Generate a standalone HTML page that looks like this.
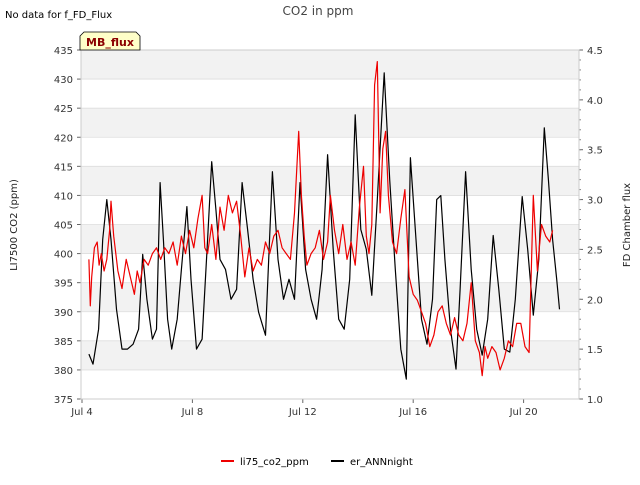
<!DOCTYPE html>
<html><head><meta charset="utf-8"><style>
body{margin:0;background:#fff;font-family:"Liberation Sans","DejaVu Sans",sans-serif}
svg text{font-family:"DejaVu Sans","Liberation Sans",sans-serif}
</style></head><body>
<svg id="c" width="640" height="480" xmlns="http://www.w3.org/2000/svg">
<text x="5" y="18" font-size="10" fill="#000">No data for f_FD_Flux</text>
<text x="318" y="15" font-size="12" fill="#444" text-anchor="middle">CO2 in ppm</text>
<text transform="translate(17,225) rotate(-90)" font-size="10" text-anchor="middle" fill="#222">LI7500 CO2 (ppm)</text>
<text transform="translate(630,225) rotate(-90)" font-size="10" text-anchor="middle" fill="#222">FD Chamber flux</text>
<g id="bands"></g><g id="grid"></g><g id="ticks"></g>
<g id="series"></g>
<rect x="81" y="50" width="498" height="349" fill="none" stroke="#ccc"/>
<g>
<path d="M80,50 L80,36 L84,32 L136,32 L140,36 L140,50 Z" fill="#ffffc8" stroke="#000" stroke-width="0.8"/>
<text x="110" y="46" font-size="11" font-weight="bold" fill="#8b0000" text-anchor="middle">MB_flux</text>
</g>
<g>
<line x1="221" y1="461" x2="234" y2="461" stroke="#e00" stroke-width="2"/>
<text x="240" y="465" font-size="10">li75_co2_ppm</text>
<line x1="331" y1="461" x2="344" y2="461" stroke="#000" stroke-width="2"/>
<text x="350" y="465" font-size="10">er_ANNnight</text>
</g>
</svg>
<script>
const leftTicks=[375,380,385,390,395,400,405,410,415,420,425,430,435];
const rightTicks=[1.0,1.5,2.0,2.5,3.0,3.5,4.0,4.5];
const xTickDays=[4,8,12,16,20];
const xTickLabels=["Jul 4","Jul 8","Jul 12","Jul 16","Jul 20"];
const co2Days=[4.25,4.3,4.35,4.45,4.55,4.62,4.7,4.8,4.9,5.0,5.05,5.15,5.3,5.45,5.6,5.75,5.9,6.0,6.1,6.25,6.4,6.55,6.7,6.85,7.0,7.15,7.3,7.45,7.6,7.75,7.9,8.05,8.2,8.35,8.45,8.55,8.7,8.85,9.0,9.15,9.3,9.45,9.6,9.75,9.9,10.05,10.2,10.35,10.5,10.65,10.8,10.95,11.1,11.25,11.4,11.55,11.7,11.85,11.95,12.05,12.15,12.3,12.45,12.6,12.75,12.9,13.0,13.15,13.3,13.45,13.6,13.75,13.9,14.05,14.2,14.3,14.4,14.5,14.6,14.7,14.8,14.9,15.0,15.1,15.25,15.4,15.55,15.7,15.85,16.0,16.15,16.3,16.45,16.6,16.75,16.9,17.05,17.2,17.35,17.5,17.65,17.8,17.95,18.1,18.25,18.4,18.5,18.6,18.7,18.85,19.0,19.15,19.3,19.45,19.6,19.75,19.9,20.05,20.2,20.35,20.5,20.55,20.65,20.8,20.95,21.05,21.15,21.25];
const co2Vals=[399,391,396,401,402,398,400,397,399,404,409,403,397,394,399,396,393,397,395,399,398,400,401,399,401,400,402,398,403,400,404,401,406,410,401,400,405,399,408,404,410,407,409,403,396,401,397,399,398,402,400,403,404,401,400,399,407,421,410,403,398,400,401,404,399,402,410,404,400,405,399,402,398,408,415,403,400,405,429,433,407,418,421,410,402,400,406,411,396,393,392,390,388,384,386,390,391,388,386,389,386,385,388,395,385,383,379,384,382,384,383,380,382,385,384,388,388,384,383,410,397,400,405,403,402,404];
const fluxDays=[4.25,4.4,4.6,4.75,4.9,5.05,5.25,5.45,5.65,5.85,6.05,6.2,6.35,6.55,6.7,6.83,6.95,7.1,7.25,7.45,7.6,7.8,7.95,8.15,8.35,8.55,8.7,8.85,9.0,9.2,9.4,9.6,9.8,10.0,10.2,10.4,10.65,10.9,11.1,11.3,11.5,11.7,11.9,12.1,12.3,12.5,12.7,12.9,13.1,13.3,13.5,13.7,13.9,14.1,14.3,14.5,14.7,14.95,15.15,15.35,15.55,15.75,15.9,16.1,16.3,16.5,16.7,16.85,17.0,17.15,17.35,17.55,17.7,17.9,18.1,18.3,18.5,18.7,18.9,19.1,19.3,19.5,19.7,19.95,20.15,20.35,20.55,20.75,20.9,21.05,21.2,21.3];
const fluxVals=[1.45,1.35,1.7,2.6,3.0,2.6,1.9,1.5,1.5,1.55,1.7,2.45,2.0,1.6,1.7,3.17,2.6,1.8,1.5,1.8,2.3,2.93,2.2,1.5,1.6,2.6,3.38,2.9,2.4,2.3,2.0,2.1,3.17,2.7,2.2,1.87,1.64,3.28,2.4,2.0,2.2,2.0,3.17,2.3,2.0,1.8,2.3,3.45,2.5,1.8,1.7,2.2,3.85,2.7,2.5,2.04,3.0,4.27,3.2,2.3,1.5,1.2,3.42,2.6,1.8,1.55,2.0,3.0,3.04,2.4,1.7,1.3,2.1,3.28,2.3,1.7,1.44,1.8,2.64,2.1,1.5,1.47,2.0,3.03,2.5,1.84,2.4,3.72,3.2,2.6,2.2,1.9];
const X=d=>82+(d-4)*27.6;
const YL=v=>399-(v-375)*(349/60);
const YR=v=>399-(v-1.0)*(349/3.5);
const NS="http://www.w3.org/2000/svg";
function mk(tag,attrs,parent){const e=document.createElementNS(NS,tag);for(const k in attrs)e.setAttribute(k,attrs[k]);document.getElementById(parent).appendChild(e);return e;}
for(let i=0;i<leftTicks.length-1;i++){if(i%2===1){const r=mk('rect',{x:81,y:YL(leftTicks[i+1]),width:498,height:YL(leftTicks[i])-YL(leftTicks[i+1]),fill:'#f2f2f2'},'bands');

}}
leftTicks.forEach(v=>{const l=mk('line',{x1:81,x2:579,y1:YL(v),y2:YL(v),stroke:'#ddd','stroke-width':0.8},'grid');


const t=mk('text',{x:73,y:YL(v)+4,'font-size':10,'text-anchor':'end',fill:'#333'},'ticks');t.textContent=v;


mk('line',{x1:77,x2:81,y1:YL(v),y2:YL(v),stroke:'#666'},'ticks');});
rightTicks.forEach(v=>{const t=mk('text',{x:587,y:YR(v)+4,'font-size':10,fill:'#333'},'ticks');t.textContent=v.toFixed(1);


mk('line',{x1:579,x2:583,y1:YR(v),y2:YR(v),stroke:'#666'},'ticks');});
for(let v=1.1;v<4.5;v+=0.1){mk('line',{x1:579,x2:581,y1:YR(v),y2:YR(v),stroke:'#888'},'ticks');}
xTickDays.forEach((d,i)=>{const t=mk('text',{x:X(d),y:415,'font-size':10,'text-anchor':'middle',fill:'#333'},'ticks');t.textContent=xTickLabels[i];


mk('line',{x1:X(d),x2:X(d),y1:399,y2:403,stroke:'#666'},'ticks');});
const fp=fluxDays.map((d,i)=>X(d).toFixed(1)+','+YR(fluxVals[i]).toFixed(1)).join(' ');
const fl=mk('polyline',{points:fp,fill:'none',stroke:'#000','stroke-width':1.2,'stroke-linejoin':'round'},'series');


const cp=co2Days.map((d,i)=>X(d).toFixed(1)+','+YL(co2Vals[i]).toFixed(1)).join(' ');
const cl=mk('polyline',{points:cp,fill:'none',stroke:'#e00','stroke-width':1.2,'stroke-linejoin':'round'},'series');


</script>
</body></html>
